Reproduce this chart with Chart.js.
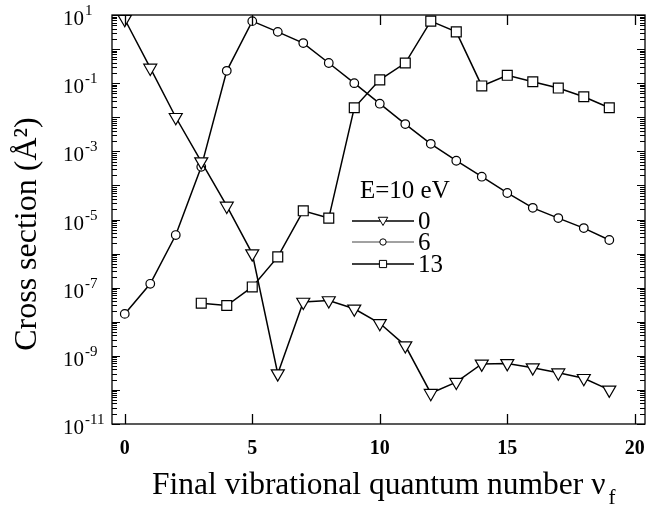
<!DOCTYPE html>
<html>
<head>
<meta charset="utf-8">
<script src="https://cdn.jsdelivr.net/npm/chart.js@4.4.1/dist/chart.umd.min.js"></script>
<style>
  html, body { margin: 0; padding: 0; background: #fff; }
  #wrap { width: 647px; height: 506px; }
</style>
</head>
<body>
<div id="wrap"><canvas id="chart"></canvas></div>
<script>
// final vibrational quantum number
const levels = [0,1,2,3,4,5,6,7,8,9,10,11,12,13,14,15,16,17,18,19];

// cross sections (A^2) for initial level 0, 6 and 13
const sigma0 = [7.5, 0.28, 0.01, 5e-4, 2.5e-5, 1e-6, 3e-10, 3.8e-8, 4.2e-8, 2.4e-8,
                9e-9, 2e-9, 8e-11, 1.7e-10, 5.8e-10, 6e-10, 4.5e-10, 3.2e-10, 2.2e-10, 1e-10];
const sigma6 = [1.7e-8, 1.3e-7, 3.5e-6, 3.5e-4, 0.23, 6.6, 3.2, 1.5, 0.39, 0.1,
                0.025, 6.3e-3, 1.66e-3, 5.3e-4, 1.8e-4, 6e-5, 2.2e-5, 1.1e-5, 5.6e-6, 2.5e-6];
const sigma13 = [null, null, null, 3.5e-8, 3e-8, 1.05e-7, 8e-7, 1.8e-5, 1.1e-5, 0.019,
                 0.125, 0.39, 6.6, 3.2, 0.083, 0.17, 0.11, 0.072, 0.04, 0.019];

const legendLabels = ['0', '6', '13'];
const xTickValues = [0, 5, 10, 15, 20];
const yLabelExps = [1, -1, -3, -5, -7, -9, -11];

const serif = '"Liberation Serif", "DejaVu Serif", serif';

function pts(arr) {
  return levels.map((v, i) => ({x: v, y: arr[i]})).filter(p => p.y !== null);
}

function marker(ctx, style, x, y, r) {
  ctx.beginPath();
  if (style === 'tri') {
    ctx.moveTo(x - r * 0.866, y - r * 0.5);
    ctx.lineTo(x + r * 0.866, y - r * 0.5);
    ctx.lineTo(x, y + r);
    ctx.closePath();
  } else if (style === 'circ') {
    ctx.arc(x, y, r, 0, Math.PI * 2);
  } else {
    ctx.rect(x - r, y - r, 2 * r, 2 * r);
  }
  ctx.fillStyle = '#fff';
  ctx.fill();
  ctx.stroke();
}

const decor = {
  id: 'decor',
  afterDraw(chart) {
    const ctx = chart.ctx;
    const a = chart.chartArea;
    const xs = chart.scales.x, ys = chart.scales.y;
    ctx.save();
    ctx.strokeStyle = '#000';
    ctx.fillStyle = '#000';
    ctx.lineWidth = 1.3;
    ctx.strokeRect(a.left, a.top, a.right - a.left, a.bottom - a.top);

    // y ticks, both sides, pointing inward
    ctx.lineWidth = 1;
    for (let e = -11; e <= 1; e++) {
      for (let m = 1; m <= 9; m++) {
        if (e === 1 && m > 1) break;
        const py = Math.round(ys.getPixelForValue(m * Math.pow(10, e))) + 0.5;
        const len = m === 1 ? 8 : 5;
        ctx.beginPath();
        ctx.moveTo(a.left, py); ctx.lineTo(a.left + len, py);
        ctx.moveTo(a.right, py); ctx.lineTo(a.right - len, py);
        ctx.stroke();
      }
    }
    // x ticks, top and bottom
    ctx.lineWidth = 1.3;
    xTickValues.forEach(v => {
      const px = Math.round(xs.getPixelForValue(v)) + 0.5;
      ctx.beginPath();
      ctx.moveTo(px, a.bottom); ctx.lineTo(px, a.bottom - 10);
      ctx.moveTo(px, a.top); ctx.lineTo(px, a.top + 10);
      ctx.stroke();
    });

    // x tick labels
    ctx.font = 'bold 20px ' + serif;
    ctx.textAlign = 'center';
    ctx.textBaseline = 'alphabetic';
    xTickValues.forEach(v => {
      ctx.fillText(String(v), xs.getPixelForValue(v), a.bottom + 30);
    });

    // y tick labels 10^n
    ctx.textAlign = 'left';
    yLabelExps.forEach(e => {
      const py = ys.getPixelForValue(Math.pow(10, e));
      ctx.font = '21px ' + serif;
      ctx.fillText('10', 63, py + 10);
      const w = ctx.measureText('10').width;
      ctx.font = '15px ' + serif;
      ctx.fillText(e < 0 ? '-' + Math.abs(e) : String(e), 63 + w + 1, py);
    });

    // axis titles
    ctx.font = '31.5px ' + serif;
    ctx.textAlign = 'left';
    const xt = 'Final vibrational quantum number \u03bd';
    ctx.fillText(xt, 152, 494);
    const xw = ctx.measureText(xt).width;
    ctx.font = '21px ' + serif;
    ctx.fillText('f', 152 + xw + 3, 504);

    ctx.save();
    ctx.translate(36, 234);
    ctx.rotate(-Math.PI / 2);
    ctx.font = '32px ' + serif;
    ctx.textAlign = 'center';
    ctx.fillText('Cross section (\u00c5\u00b2)', 0, 0);
    ctx.restore();

    // legend
    ctx.font = '25px ' + serif;
    ctx.textAlign = 'left';
    ctx.fillText('E=10 eV', 360, 198);
    const styles = ['tri', 'circ', 'sq'];
    const sizes = [5.5, 3.2, 3.6];
    const rows = [221, 242, 264];
    legendLabels.forEach((lab, i) => {
      ctx.lineWidth = i === 1 ? 1 : 1.4;
      ctx.strokeStyle = i === 1 ? '#444' : '#000';
      ctx.beginPath();
      ctx.moveTo(352, rows[i]); ctx.lineTo(414, rows[i]);
      ctx.stroke();
      ctx.lineWidth = 1;
      ctx.strokeStyle = '#000';
      marker(ctx, styles[i], 383, rows[i] - (i === 0 ? 1 : 0), sizes[i]);
      ctx.fillStyle = '#000';
      ctx.fillText(lab, 418, rows[i] + 8);
    });
    ctx.restore();
  }
};

const common = {
  borderColor: '#000',
  borderWidth: 1.5,
  pointBackgroundColor: '#fff',
  pointBorderColor: '#000',
  pointBorderWidth: 1.2,
  tension: 0,
  clip: false
};

new Chart(document.getElementById('chart'), {
  type: 'line',
  data: {
    datasets: [
      Object.assign({label: legendLabels[0], data: pts(sigma0), pointStyle: 'triangle', rotation: 180, pointRadius: 7.5}, common),
      Object.assign({label: legendLabels[1], data: pts(sigma6), pointStyle: 'circle', pointRadius: 4.3}, common),
      Object.assign({label: legendLabels[2], data: pts(sigma13), pointStyle: 'rect', pointRadius: 7}, common)
    ]
  },
  options: {
    responsive: true,
    maintainAspectRatio: false,
    animation: false,
    layout: { autoPadding: false, padding: { left: 112, top: 15, right: 2, bottom: 82 } },
    scales: {
      x: { type: 'linear', min: -0.5, max: 20.4, display: false },
      y: { type: 'logarithmic', min: 1e-11, max: 10, display: false }
    },
    plugins: {
      legend: { display: false },
      tooltip: { enabled: false }
    }
  },
  plugins: [decor]
});
</script>
</body>
</html>
